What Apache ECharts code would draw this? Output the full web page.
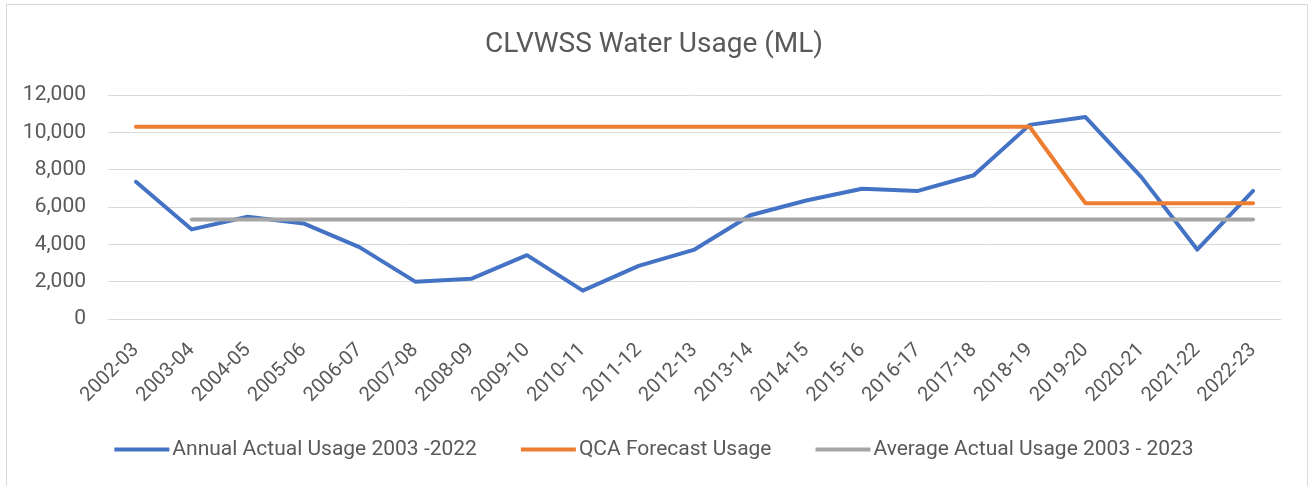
<!DOCTYPE html>
<html>
<head>
<meta charset="utf-8">
<title>CLVWSS Water Usage</title>
<script src="https://cdn.jsdelivr.net/npm/echarts@6/dist/echarts.min.js"></script>
<style>
  html, body { margin: 0; padding: 0; background: #fff; }
  #frame {
    position: absolute; left: 6px; top: 4px; width: 1302px; height: 490px;
    border: 1px solid #d9d9d9; box-sizing: border-box;
  }
  #chart { position: absolute; left: 0; top: 0; width: 1308px; height: 486px; }
</style>
</head>
<body>
<div id="frame"></div>
<div id="chart"></div>
<script>
// financial years
const years = [
  '2002-03', '2003-04', '2004-05', '2005-06', '2006-07', '2007-08', '2008-09',
  '2009-10', '2010-11', '2011-12', '2012-13', '2013-14', '2014-15', '2015-16',
  '2016-17', '2017-18', '2018-19', '2019-20', '2020-21', '2021-22', '2022-23'
];
const actualUsage = [
  7350, 4800, 5480, 5120, 3850, 2000, 2150, 3420, 1520, 2850, 3720,
  5560, 6350, 6980, 6860, 7700, 10400, 10820, 7600, 3720, 6860
];
const qcaForecast = [
  10300, 10300, 10300, 10300, 10300, 10300, 10300, 10300, 10300, 10300, 10300,
  10300, 10300, 10300, 10300, 10300, 10300, 6200, 6200, 6200, 6200
];
const averageUsage = [
  null, 5330, 5330, 5330, 5330, 5330, 5330, 5330, 5330, 5330, 5330,
  5330, 5330, 5330, 5330, 5330, 5330, 5330, 5330, 5330, 5330
];
const seriesNames = [
  'Annual Actual Usage 2003 -2022',
  'QCA Forecast Usage',
  'Average Actual Usage 2003 - 2023'
];
const yTicks = { min: 0, max: 12000, interval: 2000 };

const textColor = '#595959';

const chart = echarts.init(document.getElementById('chart'));

function lineSeries (name, data, color) {
  return {
    name: name,
    type: 'line',
    data: data,
    showSymbol: false,
    symbol: 'none',
    connectNulls: false,
    lineStyle: { width: 4, color: color, cap: 'round', join: 'round' },
    itemStyle: { color: color }
  };
}

chart.setOption({
  animation: false,
  textStyle: { fontFamily: 'Roboto' },
  title: {
    text: 'CLVWSS Water Usage (ML)',
    left: 'center',
    top: 26,
    textStyle: { fontFamily: 'Roboto', fontSize: 28, fontWeight: 'normal', color: textColor }
  },
  grid: { left: 108, right: 27, top: 95, bottom: 167 },
  legend: {
    top: 434,
    left: 'center',
    icon: 'rect',
    itemWidth: 55,
    itemHeight: 4,
    itemGap: 44,
    textStyle: { fontFamily: 'Roboto', fontSize: 21, color: textColor, padding: [0, 0, 0, -2] },
    data: seriesNames
  },
  xAxis: {
    type: 'category',
    data: years,
    boundaryGap: true,
    axisLine: { lineStyle: { color: '#d9d9d9', width: 1 } },
    axisTick: { show: false },
    axisLabel: {
      interval: 0,
      rotate: 45,
      margin: 28,
      fontFamily: 'Roboto',
      fontSize: 20,
      color: textColor
    }
  },
  yAxis: {
    type: 'value',
    min: yTicks.min,
    max: yTicks.max,
    interval: yTicks.interval,
    axisLine: { show: false },
    axisTick: { show: false },
    splitLine: { lineStyle: { color: '#d9d9d9', width: 1 } },
    axisLabel: {
      margin: 22,
      fontFamily: 'Roboto',
      fontSize: 21,
      color: textColor,
      formatter: (v) => v.toLocaleString('en-US')
    }
  },
  series: [
    lineSeries(seriesNames[0], actualUsage, '#4472c4'),
    lineSeries(seriesNames[1], qcaForecast, '#ed7d31'),
    lineSeries(seriesNames[2], averageUsage, '#a5a5a5')
  ]
});
</script>
</body>
</html>
